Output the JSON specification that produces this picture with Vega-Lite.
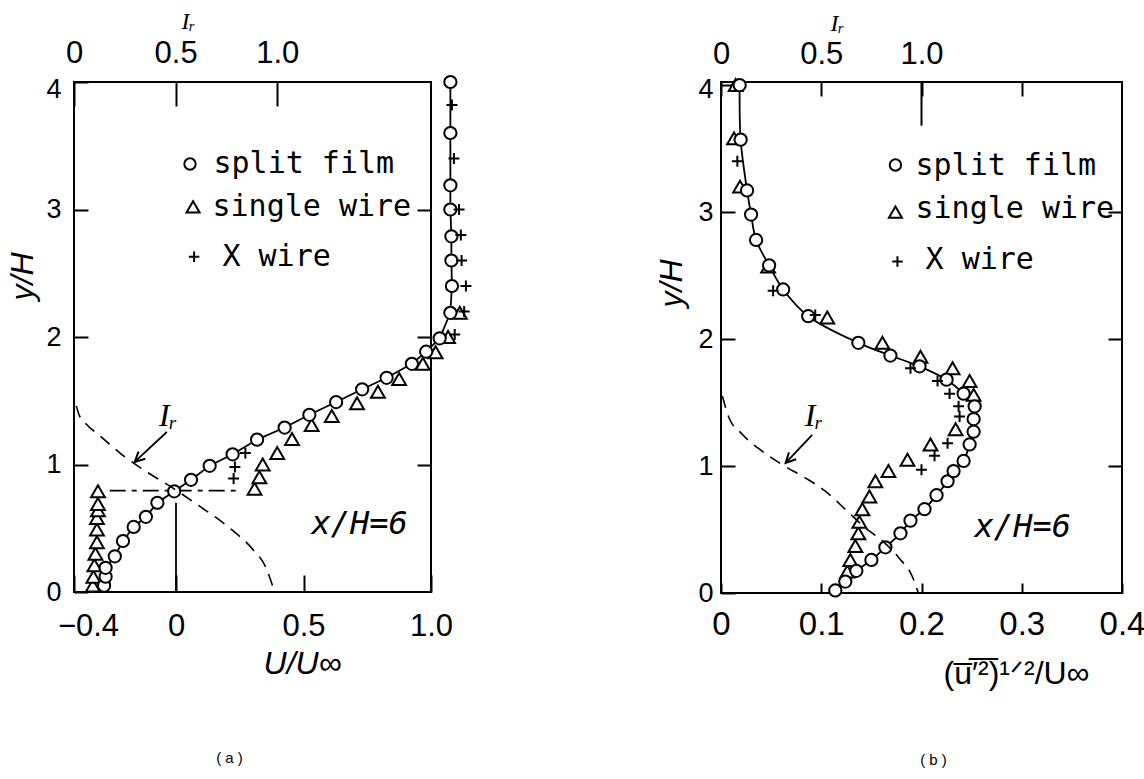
{
  "$schema": "https://vega.github.io/schema/vega-lite/v6.json",
  "background": "white",
  "padding": {"left": 5, "right": 5, "top": 8, "bottom": 5},
  "spacing": 177,
  "datasets": {
    "sfA": [
      {"U": -0.282, "y": 0.05}, {"U": -0.276, "y": 0.12}, {"U": -0.276, "y": 0.19}, {"U": -0.24, "y": 0.28},
      {"U": -0.208, "y": 0.40}, {"U": -0.166, "y": 0.51}, {"U": -0.118, "y": 0.59}, {"U": -0.073, "y": 0.70},
      {"U": -0.007, "y": 0.79}, {"U": 0.059, "y": 0.88}, {"U": 0.132, "y": 0.99}, {"U": 0.222, "y": 1.08},
      {"U": 0.318, "y": 1.195}, {"U": 0.426, "y": 1.29}, {"U": 0.523, "y": 1.39}, {"U": 0.628, "y": 1.49},
      {"U": 0.73, "y": 1.59}, {"U": 0.826, "y": 1.68}, {"U": 0.925, "y": 1.79}, {"U": 0.981, "y": 1.885},
      {"U": 1.034, "y": 1.99}, {"U": 1.076, "y": 2.19}, {"U": 1.082, "y": 2.40}, {"U": 1.08, "y": 2.60},
      {"U": 1.08, "y": 2.79}, {"U": 1.076, "y": 3.0}, {"U": 1.076, "y": 3.19}, {"U": 1.076, "y": 3.6},
      {"U": 1.076, "y": 4.0}
    ],
    "swA": [
      {"U": -0.326, "y": 0.05}, {"U": -0.324, "y": 0.12}, {"U": -0.32, "y": 0.21}, {"U": -0.316, "y": 0.30},
      {"U": -0.31, "y": 0.39}, {"U": -0.31, "y": 0.49}, {"U": -0.31, "y": 0.58}, {"U": -0.306, "y": 0.64},
      {"U": -0.306, "y": 0.69}, {"U": -0.306, "y": 0.79}, {"U": 0.308, "y": 0.81}, {"U": 0.327, "y": 0.90},
      {"U": 0.34, "y": 1.0}, {"U": 0.397, "y": 1.09}, {"U": 0.455, "y": 1.2}, {"U": 0.532, "y": 1.31},
      {"U": 0.611, "y": 1.38}, {"U": 0.71, "y": 1.48}, {"U": 0.792, "y": 1.57}, {"U": 0.875, "y": 1.67},
      {"U": 0.968, "y": 1.79}, {"U": 1.018, "y": 1.88}, {"U": 1.067, "y": 2.0}, {"U": 1.113, "y": 2.19}
    ],
    "xwA": [
      {"U": 0.226, "y": 0.89}, {"U": 0.231, "y": 0.98}, {"U": 0.272, "y": 1.09}, {"U": 1.093, "y": 2.02},
      {"U": 1.13, "y": 2.2}, {"U": 1.137, "y": 2.4}, {"U": 1.12, "y": 2.6}, {"U": 1.117, "y": 2.8},
      {"U": 1.11, "y": 3.0}, {"U": 1.09, "y": 3.4}, {"U": 1.082, "y": 3.82}
    ],
    "irA": [
      {"Ir": 0.011, "y": 1.46}, {"Ir": 0.025, "y": 1.39}, {"Ir": 0.056, "y": 1.325}, {"Ir": 0.127, "y": 1.226},
      {"Ir": 0.234, "y": 1.08}, {"Ir": 0.35, "y": 0.95}, {"Ir": 0.482, "y": 0.82}, {"Ir": 0.614, "y": 0.677},
      {"Ir": 0.762, "y": 0.507}, {"Ir": 0.878, "y": 0.337}, {"Ir": 0.944, "y": 0.194}, {"Ir": 0.985, "y": 0.01}
    ],
    "sfB": [
      {"u": 0.114, "y": 0.02}, {"u": 0.124, "y": 0.09}, {"u": 0.135, "y": 0.175}, {"u": 0.15, "y": 0.26},
      {"u": 0.164, "y": 0.36}, {"u": 0.179, "y": 0.47}, {"u": 0.189, "y": 0.57}, {"u": 0.203, "y": 0.66},
      {"u": 0.215, "y": 0.77}, {"u": 0.226, "y": 0.88}, {"u": 0.232, "y": 0.96}, {"u": 0.242, "y": 1.04},
      {"u": 0.248, "y": 1.17}, {"u": 0.252, "y": 1.27}, {"u": 0.252, "y": 1.37}, {"u": 0.253, "y": 1.47},
      {"u": 0.242, "y": 1.57}, {"u": 0.225, "y": 1.68}, {"u": 0.198, "y": 1.785}, {"u": 0.169, "y": 1.87},
      {"u": 0.137, "y": 1.97}, {"u": 0.087, "y": 2.18}, {"u": 0.062, "y": 2.39}, {"u": 0.048, "y": 2.58},
      {"u": 0.035, "y": 2.78}, {"u": 0.030, "y": 2.98}, {"u": 0.026, "y": 3.17}, {"u": 0.0196, "y": 3.57},
      {"u": 0.0186, "y": 4.0}
    ],
    "swB": [
      {"u": 0.126, "y": 0.17}, {"u": 0.129, "y": 0.26}, {"u": 0.134, "y": 0.37}, {"u": 0.137, "y": 0.47},
      {"u": 0.138, "y": 0.56}, {"u": 0.141, "y": 0.66}, {"u": 0.148, "y": 0.76}, {"u": 0.154, "y": 0.88},
      {"u": 0.167, "y": 0.96}, {"u": 0.186, "y": 1.05}, {"u": 0.209, "y": 1.17}, {"u": 0.234, "y": 1.29},
      {"u": 0.252, "y": 1.56}, {"u": 0.248, "y": 1.67}, {"u": 0.231, "y": 1.77}, {"u": 0.199, "y": 1.86},
      {"u": 0.161, "y": 1.97}, {"u": 0.106, "y": 2.17}, {"u": 0.047, "y": 2.57}, {"u": 0.019, "y": 3.2},
      {"u": 0.013, "y": 3.58}, {"u": 0.0146, "y": 4.0}
    ],
    "xwB": [
      {"u": 0.0163, "y": 3.4}, {"u": 0.052, "y": 2.38}, {"u": 0.094, "y": 2.19}, {"u": 0.189, "y": 1.77},
      {"u": 0.216, "y": 1.67}, {"u": 0.228, "y": 1.57}, {"u": 0.237, "y": 1.47}, {"u": 0.238, "y": 1.39},
      {"u": 0.226, "y": 1.18}, {"u": 0.213, "y": 1.08}, {"u": 0.200, "y": 0.97}
    ],
    "irB": [
      {"Ir": 0.007, "y": 1.55}, {"Ir": 0.04, "y": 1.38}, {"Ir": 0.106, "y": 1.25}, {"Ir": 0.206, "y": 1.116},
      {"Ir": 0.306, "y": 1.01}, {"Ir": 0.422, "y": 0.905}, {"Ir": 0.522, "y": 0.80}, {"Ir": 0.622, "y": 0.656},
      {"Ir": 0.722, "y": 0.51}, {"Ir": 0.805, "y": 0.41}, {"Ir": 0.888, "y": 0.276}, {"Ir": 0.954, "y": 0.13},
      {"Ir": 0.984, "y": 0.0}
    ]
  },
  "config": {
    "view": {"stroke": "black", "strokeWidth": 2},
    "axis": {
      "domain": false, "grid": false, "tickColor": "black", "tickWidth": 2,
      "labelColor": "black", "labelFont": "Liberation Sans", "labelFontSize": 31,
      "labelFlush": false, "labelOverlap": false,
      "titleFont": "Liberation Sans", "titleFontSize": 32, "titleFontStyle": "italic",
      "titleFontWeight": "normal", "titleColor": "black"
    },
    "text": {"color": "black"},
    "title": {"font": "Liberation Sans", "fontSize": 15, "fontWeight": "normal", "color": "black"}
  },
  "hconcat": [
    {
      "width": 357,
      "height": 510,
      "title": {"text": "( a )", "orient": "bottom", "anchor": "middle", "frame": "group", "offset": 72, "dx": -23},
      "layer": [
        {
          "encoding": {
            "x": {
              "field": "U", "type": "quantitative",
              "scale": {"domain": [-0.4, 1.0], "nice": false, "zero": false},
              "axis": {
                "orient": "bottom", "values": [-0.4, 0, 0.5, 1.0],
                "labelExpr": "datum.value == 0 ? '0' : format(datum.value, '.1f')",
                "tickSize": -17, "labelPadding": 36,
                "labelOffset": {"condition": {"test": "datum.value < -0.3", "value": 14}, "value": 0},
                "title": "U/U∞", "titleX": 228, "titleY": 71, "titleAlign": "center", "titleBaseline": "middle", "titleAngle": 0
              }
            },
            "y": {
              "field": "y", "type": "quantitative",
              "scale": {"domain": [0, 4], "nice": false, "zero": false},
              "axis": {
                "orient": "left", "values": [0, 1, 2, 3, 4], "format": "d",
                "tickSize": -14, "labelPadding": 27, "labelFontSize": 27,
                "labelOffset": {"condition": {"test": "datum.value == 4", "value": 7}, "value": 0},
                "title": "y/H", "titleX": -52, "titleY": 194, "titleAngle": -90, "titleAlign": "center", "titleBaseline": "middle"
              }
            }
          },
          "layer": [
            {
              "data": {"values": [{"U": 0, "y": 0, "y2": 0.7}]},
              "mark": {"type": "rule", "color": "black", "strokeWidth": 1.8},
              "encoding": {"y2": {"field": "y2"}}
            },
            {
              "data": {"values": [{"U": -0.26, "U2": 0.255, "y": 0.795}]},
              "mark": {"type": "rule", "color": "black", "strokeWidth": 1.8, "strokeDash": [16, 6, 5, 6]},
              "encoding": {"x2": {"field": "U2"}}
            },
            {
              "data": {"name": "sfA"},
              "mark": {"type": "line", "color": "black", "strokeWidth": 1.8},
              "encoding": {"order": {"field": "y", "type": "quantitative"}}
            },
            {
              "data": {"name": "swA"},
              "mark": {"type": "point", "shape": "triangle-up", "filled": true, "fill": "white", "stroke": "black", "strokeWidth": 2, "size": 190, "opacity": 1}
            },
            {
              "data": {"name": "sfA"},
              "mark": {"type": "point", "shape": "circle", "filled": true, "fill": "white", "stroke": "black", "strokeWidth": 2, "size": 150, "opacity": 1}
            },
            {
              "data": {"name": "xwA"},
              "mark": {"type": "point", "shape": "M-1,0H1M0,-1V1", "filled": false, "stroke": "black", "strokeWidth": 2, "size": 120, "opacity": 1}
            },
            {
              "data": {"values": [{"U": 0.055, "y": 3.357}]},
              "mark": {"type": "point", "shape": "circle", "filled": true, "fill": "white", "stroke": "black", "strokeWidth": 2, "size": 130, "opacity": 1}
            },
            {
              "data": {"values": [{"U": 0.067, "y": 3.02}]},
              "mark": {"type": "point", "shape": "triangle-up", "filled": true, "fill": "white", "stroke": "black", "strokeWidth": 2, "size": 170, "opacity": 1}
            },
            {
              "data": {"values": [{"U": 0.071, "y": 2.63}]},
              "mark": {"type": "point", "shape": "M-1,0H1M0,-1V1", "filled": false, "stroke": "black", "strokeWidth": 2, "size": 110, "opacity": 1}
            },
            {
              "data": {"values": [
                {"U": 0.147, "y": 3.29, "t": "split film"},
                {"U": 0.143, "y": 2.95, "t": "single wire"},
                {"U": 0.182, "y": 2.56, "t": "X   wire"}
              ]},
              "mark": {"type": "text", "align": "left", "baseline": "alphabetic", "font": "DejaVu Sans Mono", "fontSize": 30},
              "encoding": {"text": {"field": "t"}}
            },
            {
              "data": {"values": [{"U": 0.72, "y": 0.53, "t": "x/H=6"}]},
              "mark": {"type": "text", "align": "center", "baseline": "middle", "font": "DejaVu Sans Mono", "fontSize": 32, "fontStyle": "italic"},
              "encoding": {"text": {"field": "t"}}
            },
            {
              "data": {"values": [{"U": -0.03, "y": 1.38, "t": "Iᵣ"}]},
              "mark": {"type": "text", "align": "center", "baseline": "middle", "font": "Liberation Serif", "fontSize": 32, "fontStyle": "italic"},
              "encoding": {"text": {"field": "t"}}
            },
            {
              "data": {"values": [{"U": -0.036, "y": 1.255, "U2": -0.162, "y2": 1.02}]},
              "mark": {"type": "rule", "color": "black", "strokeWidth": 1.8},
              "encoding": {"x2": {"field": "U2"}, "y2": {"field": "y2"}}
            },
            {
              "data": {"values": [{"U": -0.162, "y": 1.02}]},
              "mark": {"type": "point", "shape": "M-0.7,1.4L0,0L0.7,1.4", "filled": false, "stroke": "black", "strokeWidth": 2, "size": 200, "angle": 227, "opacity": 1}
            }
          ]
        },
        {
          "encoding": {
            "x": {
              "field": "Ir", "type": "quantitative",
              "scale": {"domain": [0, 1.757], "nice": false, "zero": false},
              "axis": {
                "orient": "top", "values": [0, 0.5, 1],
                "labelExpr": "datum.value == 0 ? '0' : format(datum.value, '.1f')",
                "tickSize": -24, "labelPadding": 37,
                "title": "Iᵣ", "titleX": 114, "titleY": -61, "titleAlign": "center", "titleBaseline": "middle",
                "titleFont": "Liberation Serif", "titleFontSize": 24, "titleAngle": 0
              }
            },
            "y": {
              "field": "y", "type": "quantitative",
              "scale": {"domain": [0, 4], "nice": false, "zero": false},
              "axis": {"orient": "right", "values": [1, 2, 3], "labels": false, "tickSize": -14, "title": null}
            }
          },
          "layer": [
            {
              "data": {"name": "irA"},
              "mark": {"type": "line", "interpolate": "monotone", "color": "black", "strokeWidth": 1.6, "strokeDash": [12, 8]}
            }
          ]
        }
      ],
      "resolve": {"scale": {"x": "independent"}, "axis": {"y": "independent"}}
    },
    {
      "width": 401,
      "height": 511,
      "title": {"text": "( b )", "orient": "bottom", "anchor": "middle", "frame": "group", "offset": 64, "dx": 12},
      "layer": [
        {
          "encoding": {
            "x": {
              "field": "u", "type": "quantitative",
              "scale": {"domain": [0, 0.4], "nice": false, "zero": false},
              "axis": {
                "orient": "bottom", "values": [0, 0.1, 0.2, 0.3, 0.4],
                "labelExpr": "datum.value == 0 ? '0' : format(datum.value, '.1f')",
                "tickSize": -10, "labelPadding": 25, "labelFontSize": 33,
                "title": "(u̅′̅²̅)¹ᐟ²/U∞", "titleX": 295, "titleY": 80, "titleAlign": "center", "titleBaseline": "middle", "titleAngle": 0,
                "titleFontStyle": "normal"
              }
            },
            "y": {
              "field": "y", "type": "quantitative",
              "scale": {"domain": [0, 4.024], "nice": false, "zero": false},
              "axis": {
                "orient": "left", "values": [0, 1, 2, 3, 4], "format": "d",
                "tickSize": -14, "labelPadding": 22, "labelFontSize": 27,
                "labelOffset": {"condition": {"test": "datum.value == 4", "value": 4}, "value": 0},
                "title": "y/H", "titleX": -50, "titleY": 201, "titleAngle": -90, "titleAlign": "center", "titleBaseline": "middle"
              }
            }
          },
          "layer": [
            {
              "data": {"name": "sfB"},
              "mark": {"type": "line", "color": "black", "strokeWidth": 1.8, "interpolate": "catmull-rom"},
              "encoding": {"order": {"field": "y", "type": "quantitative"}}
            },
            {
              "data": {"name": "swB"},
              "mark": {"type": "point", "shape": "triangle-up", "filled": true, "fill": "white", "stroke": "black", "strokeWidth": 2, "size": 190, "opacity": 1}
            },
            {
              "data": {"name": "sfB"},
              "mark": {"type": "point", "shape": "circle", "filled": true, "fill": "white", "stroke": "black", "strokeWidth": 2, "size": 150, "opacity": 1}
            },
            {
              "data": {"name": "xwB"},
              "mark": {"type": "point", "shape": "M-1,0H1M0,-1V1", "filled": false, "stroke": "black", "strokeWidth": 2, "size": 120, "opacity": 1}
            },
            {
              "data": {"values": [{"u": 0.174, "y": 3.37}]},
              "mark": {"type": "point", "shape": "circle", "filled": true, "fill": "white", "stroke": "black", "strokeWidth": 2, "size": 130, "opacity": 1}
            },
            {
              "data": {"values": [{"u": 0.174, "y": 3.0}]},
              "mark": {"type": "point", "shape": "triangle-up", "filled": true, "fill": "white", "stroke": "black", "strokeWidth": 2, "size": 170, "opacity": 1}
            },
            {
              "data": {"values": [{"u": 0.176, "y": 2.61}]},
              "mark": {"type": "point", "shape": "M-1,0H1M0,-1V1", "filled": false, "stroke": "black", "strokeWidth": 2, "size": 110, "opacity": 1}
            },
            {
              "data": {"values": [
                {"u": 0.194, "y": 3.29, "t": "split film"},
                {"u": 0.194, "y": 2.95, "t": "single wire"},
                {"u": 0.204, "y": 2.55, "t": "X   wire"}
              ]},
              "mark": {"type": "text", "align": "left", "baseline": "alphabetic", "font": "DejaVu Sans Mono", "fontSize": 30},
              "encoding": {"text": {"field": "t"}}
            },
            {
              "data": {"values": [{"u": 0.301, "y": 0.52, "t": "x/H=6"}]},
              "mark": {"type": "text", "align": "center", "baseline": "middle", "font": "DejaVu Sans Mono", "fontSize": 32, "fontStyle": "italic"},
              "encoding": {"text": {"field": "t"}}
            },
            {
              "data": {"values": [{"u": 0.0928, "y": 1.39, "t": "Iᵣ"}]},
              "mark": {"type": "text", "align": "center", "baseline": "middle", "font": "Liberation Serif", "fontSize": 32, "fontStyle": "italic"},
              "encoding": {"text": {"field": "t"}}
            },
            {
              "data": {"values": [{"u": 0.091, "y": 1.246, "u2": 0.0645, "y2": 1.024}]},
              "mark": {"type": "rule", "color": "black", "strokeWidth": 1.8},
              "encoding": {"x2": {"field": "u2"}, "y2": {"field": "y2"}}
            },
            {
              "data": {"values": [{"u": 0.0645, "y": 1.024}]},
              "mark": {"type": "point", "shape": "M-0.7,1.4L0,0L0.7,1.4", "filled": false, "stroke": "black", "strokeWidth": 2, "size": 200, "angle": 224, "opacity": 1}
            }
          ]
        },
        {
          "encoding": {
            "x": {
              "field": "Ir", "type": "quantitative",
              "scale": {"domain": [0, 2.0], "nice": false, "zero": false},
              "axis": {
                "orient": "top", "values": [0, 0.5, 1, 1.5],
                "labelExpr": "datum.value == 0 ? '0' : datum.value > 1.2 ? '' : format(datum.value, '.1f')",
                "tickSize": -14, "labelPadding": 26,
                "title": "Iᵣ", "titleX": 116, "titleY": -59, "titleAlign": "center", "titleBaseline": "middle",
                "titleFont": "Liberation Serif", "titleFontSize": 24, "titleAngle": 0
              }
            },
            "y": {
              "field": "y", "type": "quantitative",
              "scale": {"domain": [0, 4.024], "nice": false, "zero": false},
              "axis": {"orient": "right", "values": [1, 2, 3], "labels": false, "tickSize": -14, "title": null}
            }
          },
          "layer": [
            {
              "data": {"name": "irB"},
              "mark": {"type": "line", "interpolate": "monotone", "color": "black", "strokeWidth": 1.6, "strokeDash": [12, 8]}
            },
            {
              "data": {"values": [{"Ir": 1.0, "y": 3.68, "y2": 4.024}]},
              "mark": {"type": "rule", "color": "black", "strokeWidth": 2},
              "encoding": {"y2": {"field": "y2"}}
            }
          ]
        }
      ],
      "resolve": {"scale": {"x": "independent"}, "axis": {"y": "independent"}}
    }
  ]
}
